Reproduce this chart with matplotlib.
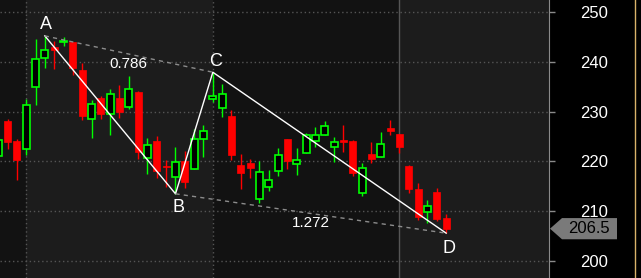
import numpy as np
import matplotlib
matplotlib.use("Agg")
import matplotlib.pyplot as plt
from matplotlib.patches import Polygon
from matplotlib.lines import Line2D
from matplotlib.transforms import IdentityTransform

plt.rcParams['font.family'] = ['Liberation Sans', 'DejaVu Sans']

# daily candles
opens  = [221.1, 228.1, 224.1, 222.5, 234.9, 240.8, 243.0, 244.0, 243.9, 238.4,
          228.5, 232.7, 229.5, 232.7, 231.0, 233.9, 220.6, 224.1, 219.1, 216.9,
          220.1, 218.5, 224.4, 232.5, 230.8, 229.1, 219.3, 219.7, 212.4, 214.9,
          218.0, 224.5, 219.4, 221.6, 224.0, 225.4, 222.8, 224.3, 224.1, 213.7,
          221.5, 220.9, 226.7, 225.5, 219.1, 214.5, 209.9, 213.9, 208.7]
highs  = [224.7, 228.5, 224.5, 232.5, 244.6, 245.2, 244.2, 244.9, 244.0, 239.8,
          232.3, 233.2, 234.5, 235.3, 237.1, 234.1, 224.8, 225.1, 220.3, 222.8,
          222.1, 226.6, 227.3, 237.9, 235.5, 230.3, 221.5, 220.5, 220.0, 218.3,
          222.6, 224.6, 222.6, 225.8, 227.0, 228.2, 225.0, 227.3, 224.2, 219.7,
          223.8, 225.9, 228.3, 225.6, 219.2, 215.6, 212.2, 214.6, 209.4]
lows   = [220.7, 222.5, 216.3, 221.3, 231.3, 238.7, 238.5, 243.2, 237.3, 228.3,
          224.8, 228.5, 225.4, 228.7, 230.5, 220.5, 217.5, 216.6, 214.9, 213.5,
          214.6, 218.4, 220.8, 232.0, 229.0, 220.3, 214.5, 216.7, 211.6, 214.1,
          217.1, 218.5, 217.3, 221.6, 222.8, 225.3, 219.9, 221.9, 217.1, 213.1,
          219.7, 220.8, 225.3, 221.6, 213.6, 208.2, 207.7, 208.1, 205.6]
closes = [224.3, 223.9, 220.3, 231.3, 240.5, 242.4, 242.4, 244.1, 238.7, 229.2,
          231.5, 229.5, 233.5, 229.9, 234.5, 221.9, 223.3, 218.1, 218.8, 219.9,
          215.9, 224.4, 226.2, 233.1, 233.5, 221.3, 217.7, 218.7, 217.9, 216.3,
          221.2, 220.1, 220.3, 225.4, 225.3, 227.1, 223.8, 223.9, 217.7, 218.6,
          220.5, 223.5, 226.1, 222.8, 214.4, 208.9, 211.0, 208.4, 206.5]

month_starts = [3, 23, 43]
price_ticks = [200, 210, 220, 230, 240, 250]
last_price = 206.5

# ABCD pattern: A high, B low, C high, D low
pat_idx = [5, 19, 23, 48]
pat_names = ['A', 'B', 'C', 'D']
ratios = ['0.786', '1.272']

x = np.arange(len(opens))
o = np.array(opens); c = np.array(closes)
h = np.array(highs); l = np.array(lows)
up = c >= o

fig = plt.figure(figsize=(6.41, 2.78), dpi=100, facecolor='black')
ax = fig.add_axes([0, 0, 549 / 641, 1])
ax.set_facecolor('#121212')
xmin, xmax = 0.196, 59.02
ax.set_xlim(xmin, xmax)
ax.set_ylim(196.6, 252.4)

# alternating month shading
ax.axvspan(month_starts[0], month_starts[1], color='#1c1c1c', lw=0, zorder=0)
ax.axvspan(month_starts[2], xmax, color='#1c1c1c', lw=0, zorder=0)
for m in month_starts[:2]:
    ax.axvline(m, color='#555555', lw=1, ls=(0, (1, 2)), zorder=1)
ax.axvline(month_starts[2], color='#555555', lw=1, zorder=1)
for t in price_ticks:
    ax.axhline(t, color='#555555', lw=1, ls=(0, (1, 2)), zorder=1)

# candles
w = 0.72
ax.vlines(x[up], l[up], h[up], color='#00ff00', lw=1, zorder=2)
ax.vlines(x[~up], l[~up], h[~up], color='#ff0000', lw=1, zorder=2)
bottoms = np.minimum(o, c)
heights = np.maximum(np.abs(c - o), 0.25)
ax.bar(x[up], heights[up], w, bottom=bottoms[up], facecolor='black',
       edgecolor='#00ff00', lw=1.2, zorder=3)
ax.bar(x[~up], heights[~up], w, bottom=bottoms[~up], facecolor='#ff0000',
       edgecolor='#ff0000', lw=0.5, zorder=3)

# pattern lines
px = x[pat_idx]
py = [h[pat_idx[0]], l[pat_idx[1]], h[pat_idx[2]], l[pat_idx[3]]]
ax.plot(px, py, color='white', lw=1, zorder=4)
ax.plot([px[0], px[2]], [py[0], py[2]], color='#8c8c8c', lw=1, ls=(0, (3, 3)), zorder=4)
ax.plot([px[1], px[3]], [py[1], py[3]], color='#8c8c8c', lw=1, ls=(0, (3, 3)), zorder=4)

offsets = [(1, 8), (2, -10), (2, 8), (2, -11)]
for name, xx, yy, off in zip(pat_names, px, py, offsets):
    ax.annotate(name, (xx, yy), xytext=off, textcoords='offset points',
                ha='center', va='center', color='white', fontsize=13, zorder=5)
for lab, (i, j) in zip(ratios, [(0, 2), (1, 3)]):
    ax.annotate(lab, ((px[i] + px[j]) / 2, (py[i] + py[j]) / 2), xytext=(0, -7),
                textcoords='offset points', ha='center', va='center',
                color='white', fontsize=11, zorder=5)

# right axis
for s in ['left', 'top', 'bottom']:
    ax.spines[s].set_visible(False)
ax.spines['right'].set_color('#8a8a8a')
ax.set_xticks([])
ax.yaxis.tick_right()
ax.set_yticks(price_ticks)
ax.tick_params(axis='y', length=4.3, width=1, color='#8a8a8a', labelcolor='white',
               labelsize=12, pad=38)
for t in ax.get_yticklabels():
    t.set_ha('right')

# last price tag
fig.canvas.draw()
x0, y0 = ax.transData.transform((xmax, last_price))
tag = Polygon([(x0 + 1, y0), (x0 + 13, y0 + 10.6), (x0 + 68, y0 + 10.6),
               (x0 + 68, y0 - 10.6), (x0 + 13, y0 - 10.6)], closed=True,
              facecolor='#7a7a7a', edgecolor='none', transform=IdentityTransform())
fig.add_artist(tag)
fig.text(x0 + 40, y0, f'{last_price}', transform=IdentityTransform(), ha='center',
         va='center', color='black', fontsize=12)

fig.add_artist(Line2D([634.5 / 641] * 2, [0, 1], transform=fig.transFigure,
                      color='#d9b36a', lw=1))

fig.savefig('out.png', dpi=100, facecolor='black')
